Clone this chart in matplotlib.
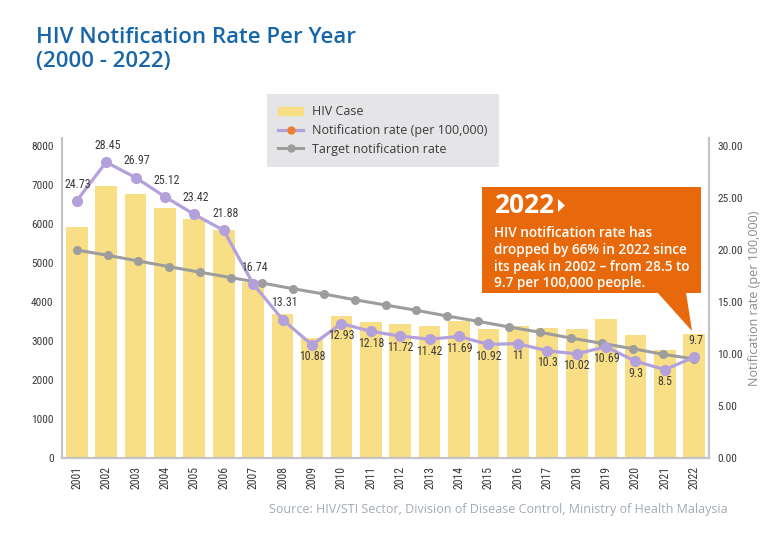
import matplotlib
matplotlib.use("Agg")
import matplotlib.pyplot as plt
import numpy as np
from matplotlib.lines import Line2D
from matplotlib.patches import Patch, Polygon, Rectangle

# data
years = [str(y) for y in range(2001, 2023)]
hiv_cases = [5930, 6980, 6760, 6420, 6120, 5840, 4520, 3690, 3070, 3650, 3480,
             3440, 3390, 3520, 3320, 3390, 3330, 3300, 3560, 3150, 2770, 3180]
notif_rate = [24.73, 28.45, 26.97, 25.12, 23.42, 21.88, 16.74, 13.31, 10.88, 12.93, 12.18,
              11.72, 11.42, 11.69, 10.92, 11, 10.3, 10.02, 10.69, 9.3, 8.5, 9.7]
# target series has 21 points spread across the same width
target_rate = [20.0, 19.49, 18.94, 18.39, 17.86, 17.34, 16.83, 16.28, 15.77, 15.22, 14.71,
               14.20, 13.65, 13.14, 12.60, 12.09, 11.54, 11.03, 10.51, 9.97, 9.52]
label_above = [True] * 8 + [False] * 13 + [True]

BAR = "#f8de84"
PURPLE = "#b3a1dc"
GREY = "#9d9d9d"
ORANGE = "#e8690b"
BLUE = "#1766a9"
TXT = "#3a3a3a"
cond = ["Roboto Condensed", "Liberation Sans Narrow", "DejaVu Sans"]
body = ["Open Sans", "DejaVu Sans"]
cfont = dict(family=cond, stretch="condensed")

fig = plt.figure(figsize=(7.68, 5.41), dpi=100)
ax = fig.add_axes([62 / 768, 83 / 541, 647 / 768, 320 / 541])
ax2 = ax.twinx()

x = np.arange(len(years))
ax.bar(x, hiv_cases, width=0.74, color=BAR, zorder=1)
ax.set_xlim(-0.5, len(years) - 0.5)
ax.set_ylim(0, 8000 * 320 / 312)
ax.set_yticks(range(0, 8001, 1000))
ax.set_xticks(x)
ax.set_xticklabels(years, rotation=90, fontsize=8.5, color=TXT, **cfont)
for t in ax.get_yticklabels():
    t.set_family(cond)
    t.set_stretch("condensed")
    t.set_fontsize(8.2)
    t.set_color(TXT)
ax.tick_params(length=0, pad=6)

ax2.set_ylim(0, 30 * 320 / 312)
ax2.set_yticks(np.arange(0, 30.01, 5))
ax2.set_yticklabels([f"{v:.2f}" for v in np.arange(0, 30.01, 5)],
                    fontsize=8.2, color=TXT, **cfont)
ax2.tick_params(length=0, pad=6)
ax2.set_ylabel("Notification rate (per 100,000)", family=body, fontsize=9,
               color="#8a8a8a")
ax2.yaxis.set_label_coords((748 - 62) / 647, 0.5)

for a in (ax, ax2):
    a.spines["top"].set_visible(False)
    for s in ("left", "right", "bottom"):
        a.spines[s].set_color("#c4c4c4")
        a.spines[s].set_linewidth(1.5)

xt = np.linspace(0, len(years) - 1, len(target_rate))
ax2.plot(xt, target_rate, color=GREY, lw=2.2, marker="o", ms=5.5, zorder=3)
ax2.plot(x, notif_rate, color=PURPLE, lw=2.3, marker="o", ms=7, zorder=4)

for xi, v, up in zip(x, notif_rate, label_above):
    ax2.annotate(f"{v:g}", (xi, v), xytext=(1 if up else 0, 12 if up else -8.5),
                 textcoords="offset points", ha="center", va="center",
                 fontsize=8.6, color=TXT, zorder=5, **cfont)

# legend
handles = [Patch(color=BAR),
           Line2D([], [], color=PURPLE, lw=2.3, marker="o", ms=5,
                  markerfacecolor="#ee7d31", markeredgecolor="#ee7d31"),
           Line2D([], [], color=GREY, lw=2.2, marker="o", ms=5)]
labels = ["HIV Case", "Notification rate (per 100,000)", "Target notification rate"]
leg = fig.legend(handles, labels, loc="upper left", bbox_to_anchor=(267 / 768, 1 - 94 / 541),
                 borderaxespad=0, frameon=True, fancybox=False, facecolor="#e5e5e7",
                 edgecolor="none", framealpha=1, prop={"family": body, "size": 9},
                 labelcolor=TXT, handlelength=2.0, borderpad=0.9, labelspacing=0.45,
                 handletextpad=0.7)

# callout box
W, H = 768, 541
def fx(px):
    return px / W
def fy(py):
    return 1 - py / H
fig.add_artist(Rectangle((fx(482), fy(293)), fx(701) - fx(482), fy(187) - fy(293),
                         transform=fig.transFigure, color=ORANGE, lw=0, zorder=10))
fig.add_artist(Polygon([(fx(657), fy(292)), (fx(686), fy(292)), (fx(692), fy(331))],
                       closed=True, transform=fig.transFigure, color=ORANGE, lw=0, zorder=10))
fig.text(fx(494), fy(206), "2022", color="white", fontsize=19, fontweight="bold",
         family=body, va="center", ha="left", zorder=11)
fig.add_artist(Polygon([(fx(558), fy(199)), (fx(558), fy(212)), (fx(565), fy(205.5))],
                       closed=True, transform=fig.transFigure, color="white", lw=0, zorder=11))
fig.text(fx(494), fy(226),
         "HIV notification rate has\ndropped by 66% in 2022 since\nits peak in 2002 \u2013 from 28.5 to\n9.7 per 100,000 people.",
         color="white", fontsize=9.8, family=body, fontweight="semibold",
         va="top", ha="left", linespacing=1.25, zorder=11)

# titles
fig.text(fx(36), fy(27), "HIV Notification Rate Per Year\n(2000 - 2022)", color=BLUE,
         fontsize=16, fontweight="semibold", family=body, va="top", ha="left", linespacing=1.2)
fig.text(fx(728), fy(510), "Source: HIV/STI Sector, Division of Disease Control, Ministry of Health Malaysia",
         color="#a3aab2", fontsize=9.0, family=body, va="center", ha="right")

fig.savefig("out.png", dpi=100)
